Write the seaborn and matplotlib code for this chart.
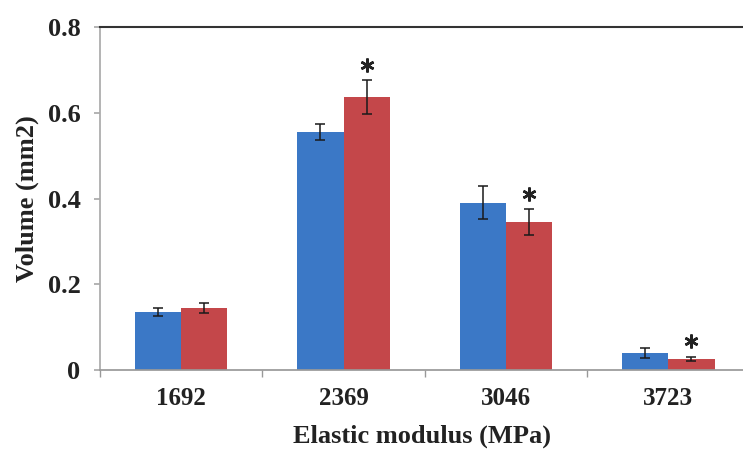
import pandas as pd
import numpy as np
import matplotlib.pyplot as plt
import matplotlib.ticker as mticker
import seaborn as sns

# Datos
modulo = ['1692', '2369', '3046', '3723']
serie_azul = [0.135, 0.555, 0.390, 0.040]
serie_roja = [0.145, 0.636, 0.345, 0.026]
err_azul = [0.010, 0.018, 0.038, 0.012]
err_roja = [0.012, 0.040, 0.030, 0.005]
asterisco_roja = [False, True, True, True]
y_ticks = [0, 0.2, 0.4, 0.6, 0.8]
y_tick_labels = ['0', '0.2', '0.4', '0.6', '0.8']

df = pd.DataFrame({
    'modulo': modulo * 2,
    'volumen': serie_azul + serie_roja,
    'serie': ['azul'] * 4 + ['roja'] * 4,
})

sns.set_theme(style='white')
plt.rcParams['font.family'] = ['Liberation Serif', 'DejaVu Serif']

colores = {'azul': '#3b78c6', 'roja': '#c4474a'}

fig = plt.figure(figsize=(7.43, 4.49), dpi=100)
ax = fig.add_axes([0.1346, 0.1759, 0.8654, 0.764])

sns.barplot(data=df, x='modulo', y='volumen', hue='serie', palette=colores,
            width=0.57, saturation=1, errorbar=None, legend=False,
            linewidth=0, ax=ax)

# Barras de error y asteriscos
parches = [p for p in ax.patches if p.get_height() > 0]
parches = sorted(parches, key=lambda p: p.get_x())
for i in range(len(modulo)):
    pa, pr = parches[2 * i], parches[2 * i + 1]
    for p, val, e in [(pa, serie_azul[i], err_azul[i]), (pr, serie_roja[i], err_roja[i])]:
        ax.errorbar(p.get_x() + p.get_width() / 2, val, yerr=e, fmt='none',
                    ecolor='#1a1a1a', elinewidth=1.1, capsize=3.5, capthick=1.1)
    if asterisco_roja[i]:
        ax.plot(pr.get_x() + pr.get_width() / 2, serie_roja[i] + err_roja[i] + 0.036,
                marker=(6, 2, 0), markersize=10, markeredgewidth=1.8,
                color='#222222', linestyle='none')

ax.set_ylim(0, 0.8)
ax.set_xlim(-0.5, 3.46)
ax.set_yticks(y_ticks)
ax.set_yticklabels(y_tick_labels)
ax.xaxis.set_minor_locator(mticker.FixedLocator([-0.5, 0.5, 1.5, 2.5]))
ax.tick_params(axis='x', which='major', length=0, pad=12, labelsize=18)
ax.tick_params(axis='x', which='minor', length=5, color='#999999', direction='out', bottom=True)
ax.tick_params(axis='y', length=4, color='#aaaaaa', direction='out', left=True, pad=10, labelsize=19)
for lab in ax.get_xticklabels() + ax.get_yticklabels():
    lab.set_fontweight('bold')
    lab.set_color('#222222')

ax.set_xlabel('Elastic modulus (MPa)', fontsize=19, fontweight='bold', color='#222222', labelpad=11)
ax.set_ylabel('Volume (mm2)', fontsize=19, fontweight='bold', color='#222222', labelpad=6)

ax.spines['top'].set_color('#333333')
ax.spines['top'].set_linewidth(1.5)
ax.spines['left'].set_color('#aaaaaa')
ax.spines['bottom'].set_color('#999999')
ax.spines['right'].set_visible(False)

plt.savefig('out.png', dpi=100)
